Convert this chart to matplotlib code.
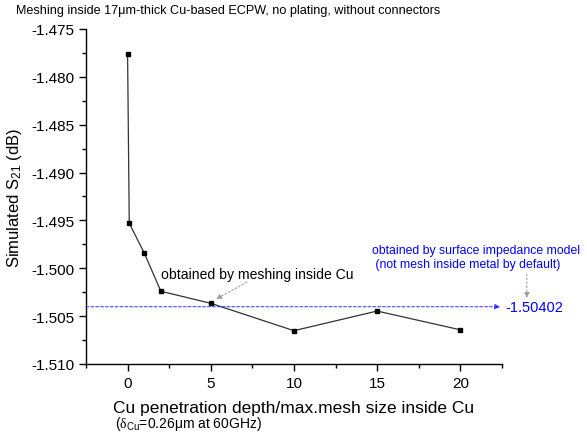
import matplotlib.pyplot as plt
from matplotlib.ticker import MultipleLocator

plt.rcParams['font.family'] = ['Liberation Sans', 'DejaVu Sans']
plt.rcParams['mathtext.fontset'] = 'custom'
plt.rcParams['mathtext.rm'] = 'Liberation Sans'
plt.rcParams['mathtext.it'] = 'Liberation Serif'

ratio = [0, 0.1, 1, 2, 5, 10, 15, 20]
s21 = [-1.47761, -1.49530, -1.49840, -1.50240, -1.50366, -1.50652, -1.50447, -1.50643]
surface_val = -1.50402

fig = plt.figure(figsize=(5.87, 4.39), dpi=100)
ax = fig.add_axes([0.1465, 0.1686, 0.7085, 0.7631])

ax.plot(ratio, s21, color='#333333', lw=0.9, marker='s', ms=3.2,
        mfc='black', mec='black')

ax.set_xlim(-2.5, 22.5)
ax.set_ylim(-1.510, -1.475)
ax.xaxis.set_major_locator(MultipleLocator(5))
ax.xaxis.set_minor_locator(MultipleLocator(2.5))
ax.yaxis.set_major_locator(MultipleLocator(0.005))
ax.yaxis.set_minor_locator(MultipleLocator(0.0025))
ax.yaxis.set_major_formatter(plt.FuncFormatter(lambda v, p: f'{v:.3f}'))
ax.tick_params(which='major', direction='out', length=5, width=1, labelsize=11)
ax.tick_params(which='minor', direction='out', length=3, width=1)
ax.tick_params(axis='x', pad=4)
for s in ['top', 'right']:
    ax.spines[s].set_visible(False)
for s in ['left', 'bottom']:
    ax.spines[s].set_linewidth(1)

ax.set_ylabel('Simulated S$_{21}$ (dB)', fontsize=12, labelpad=5)
ax.set_xlabel('Cu penetration depth/max.mesh size inside Cu', fontsize=12.5, labelpad=7)
fig.text(0.196, 0.025, r'($\delta_{\rm Cu}$=0.26μm at 60GHz)', fontsize=10)
fig.text(0.027, 0.975, 'Meshing inside 17μm-thick Cu-based ECPW, no plating, without connectors',
         fontsize=9.1, va='center')

# surface impedance reference line
ax.annotate('', xy=(22.4, surface_val), xytext=(-2.5, surface_val),
            arrowprops=dict(arrowstyle='-|>', color='#3030ff', lw=0.7, ls=(0, (3, 2)),
                            mutation_scale=8, shrinkA=0, shrinkB=0), annotation_clip=False)
ax.text(22.7, surface_val, f'{surface_val:.5f}', color='blue', fontsize=10.5,
        va='center', ha='left', clip_on=False)
ax.text(14.7, -1.4988, 'obtained by surface impedance model\n (not mesh inside metal by default)',
        color='blue', fontsize=8.8, va='center', ha='left', clip_on=False, linespacing=1.25)
ax.annotate('', xy=(24.0, -1.5031), xytext=(24.0, -1.5006),
            arrowprops=dict(arrowstyle='-|>', color='#999999', lw=0.7, ls=(0, (2, 2)),
                            mutation_scale=8, shrinkA=0, shrinkB=0), annotation_clip=False)

ax.text(2.0, -1.5006, 'obtained by meshing inside Cu', fontsize=10.1, va='center', ha='left')
ax.annotate('', xy=(5.32, -1.50322), xytext=(7.18, -1.50144),
            arrowprops=dict(arrowstyle='-|>', color='#999999', lw=0.7, ls=(0, (2, 2)),
                            mutation_scale=8, shrinkA=0, shrinkB=0))

fig.savefig('out.png', dpi=100)
